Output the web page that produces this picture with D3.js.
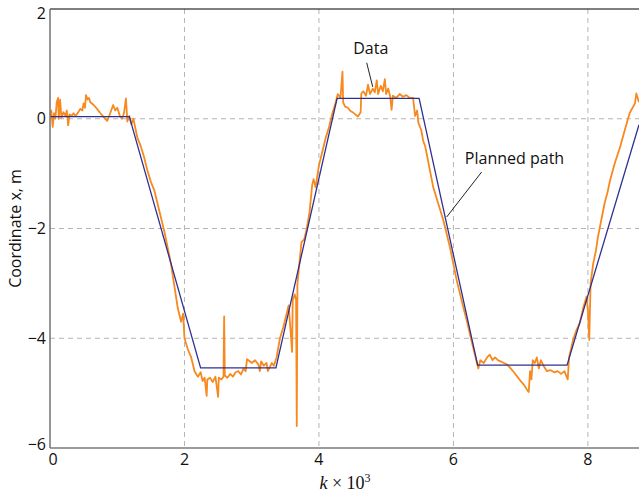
<!DOCTYPE html>
<html>
<head>
<meta charset="utf-8">
<script src="https://cdn.jsdelivr.net/npm/d3@7"></script>
<style>
  body { margin: 0; background: #fff; }
  svg { display: block; }
  text { font-family: "Open Sans", "Noto Sans", sans-serif; fill: #111; }
</style>
</head>
<body>
<svg id="chart" width="639" height="497"></svg>
<script>
// k (thousands) and x, m
const plannedK = [0, 1.18, 2.24, 3.36, 4.27, 5.49, 6.36, 7.69, 8.76];
const plannedX = [0.04, 0.04, -4.54, -4.54, 0.37, 0.37, -4.49, -4.49, -0.11];

const dataK = [
  0.00, 0.02, 0.04, 0.06, 0.08, 0.10, 0.12, 0.13, 0.15, 0.17, 0.20, 0.23, 0.25, 0.27, 0.29,
  0.32, 0.35, 0.38, 0.42, 0.45, 0.48, 0.50, 0.52, 0.535, 0.56, 0.58, 0.60, 0.65, 0.70, 0.75,
  0.80, 0.85, 0.88, 0.91, 0.94, 0.97, 1.00, 1.04, 1.07, 1.10, 1.13, 1.15, 1.18, 1.21, 1.24,
  1.30, 1.35, 1.40, 1.45, 1.50, 1.55, 1.60, 1.65, 1.70, 1.75, 1.80, 1.85, 1.90, 1.95, 1.98,
  2.00, 2.05, 2.10, 2.15, 2.20, 2.24, 2.27, 2.30, 2.33, 2.34, 2.38, 2.42, 2.46, 2.50, 2.51,
  2.55, 2.58, 2.59, 2.60, 2.64, 2.68, 2.72, 2.76, 2.80, 2.84, 2.88, 2.91, 2.93, 2.97, 3.00,
  3.05, 3.10, 3.12, 3.14, 3.18, 3.22, 3.24, 3.26, 3.30, 3.33, 3.37, 3.42, 3.47, 3.52, 3.55,
  3.58, 3.60, 3.61, 3.64, 3.66, 3.67, 3.68, 3.72, 3.74, 3.78, 3.82, 3.86, 3.90, 3.92, 3.95,
  4.00, 4.05, 4.10, 4.15, 4.20, 4.25, 4.28, 4.32, 4.35, 4.36, 4.39, 4.43, 4.46, 4.50, 4.54,
  4.58, 4.62, 4.63, 4.66, 4.70, 4.73, 4.76, 4.80, 4.83, 4.86, 4.88, 4.92, 4.95, 4.98, 5.00,
  5.03, 5.06, 5.08, 5.10, 5.15, 5.20, 5.25, 5.30, 5.35, 5.40, 5.43, 5.46, 5.48, 5.52, 5.55,
  5.58, 5.62, 5.66, 5.70, 5.75, 5.80, 5.85, 5.90, 5.95, 6.00, 6.05, 6.10, 6.15, 6.20, 6.25,
  6.30, 6.35, 6.37, 6.40, 6.45, 6.50, 6.54, 6.58, 6.62, 6.66, 6.70, 6.75, 6.80, 6.85, 6.90,
  6.95, 7.00, 7.05, 7.10, 7.12, 7.14, 7.16, 7.18, 7.21, 7.24, 7.27, 7.30, 7.34, 7.39, 7.44,
  7.50, 7.55, 7.60, 7.65, 7.70, 7.72, 7.78, 7.83, 7.88, 7.93, 7.98, 8.00, 8.02, 8.04, 8.08,
  8.12, 8.15, 8.20, 8.25, 8.29, 8.33, 8.40, 8.48, 8.55, 8.62, 8.70, 8.72, 8.76
];
const dataX = [
  0.05, 0.15, -0.15, 0.10, 0.00, 0.30, 0.38, 0.00, 0.35, 0.02, 0.12, 0.05, 0.15, -0.12, 0.08,
  0.05, 0.10, 0.05, 0.12, 0.18, 0.15, 0.28, 0.20, 0.43, 0.35, 0.38, 0.30, 0.25, 0.18, 0.10,
  0.03, -0.04, 0.05, 0.15, 0.25, 0.15, 0.20, 0.05, 0.00, 0.10, 0.37, -0.05, 0.05, -0.10, 0.00,
  -0.35, -0.50, -0.70, -0.95, -1.15, -1.30, -1.55, -1.80, -2.05, -2.35, -2.65, -3.05, -3.45, -3.70, -3.55,
  -4.00, -4.20, -4.35, -4.60, -4.70, -4.62, -4.78, -4.72, -5.05, -4.75, -4.72, -4.80, -4.70, -5.07, -4.72,
  -4.75, -4.70, -3.60, -4.68, -4.72, -4.65, -4.70, -4.62, -4.60, -4.66, -4.55, -4.60, -4.38, -4.42, -4.45,
  -4.40, -4.48, -4.60, -4.42, -4.50, -4.45, -4.60, -4.55, -4.45, -4.50, -4.35, -4.00, -3.80, -3.55, -3.40,
  -3.90, -4.25, -3.30, -3.20, -3.30, -5.60, -3.00, -2.50, -2.25, -2.20, -2.00, -1.70, -1.20, -1.10, -1.25,
  -0.85, -0.60, -0.35, -0.15, 0.10, 0.30, 0.45, 0.38, 0.86, 0.30, 0.22, 0.20, 0.15, 0.12, 0.08,
  0.04, 0.12, 0.46, 0.50, 0.42, 0.62, 0.45, 0.55, 0.48, 0.70, 0.45, 0.60, 0.50, 0.72, 0.45,
  0.55, 0.40, 0.16, 0.42, 0.38, 0.45, 0.40, 0.43, 0.38, 0.38, 0.05, 0.15, -0.08, -0.20, -0.40,
  -0.50, -0.75, -1.00, -1.25, -1.45, -1.65, -1.85, -2.10, -2.35, -2.65, -2.95, -3.20, -3.45, -3.68, -3.95,
  -4.20, -4.45, -4.55, -4.40, -4.45, -4.35, -4.30, -4.40, -4.35, -4.40, -4.42, -4.45, -4.48, -4.55, -4.62,
  -4.70, -4.78, -4.85, -4.95, -4.98, -4.60, -4.75, -4.40, -4.45, -4.35, -4.55, -4.40, -4.50, -4.60, -4.58,
  -4.62, -4.60, -4.65, -4.60, -4.75, -4.35, -4.03, -3.85, -3.72, -3.45, -3.24, -3.50, -4.03, -3.00, -2.63,
  -2.40, -2.15, -1.84, -1.53, -1.35, -1.12, -0.81, -0.51, -0.20, 0.10, 0.28, 0.46, 0.30
];

const xTicks = [0, 2, 4, 6, 8];
const yTicks = [2, 0, -2, -4, -6];
const gridX = [2, 4, 6, 8];
const gridY = [0, -2, -4];

// label text, anchor point of the text, and the two ends of its pointer line
const noteText = ['Data', 'Planned path'];
const noteAt = [[4.77, 1.25], [6.17, -0.75]];
const noteFrom = [[4.71, 1.02], [6.42, -0.97]];
const noteTo = [[4.8, 0.58], [5.9, -1.79]];

const width = 639, height = 497;
const margin = { top: 9, right: 0, bottom: 49, left: 50 };

const svg = d3.select('#chart');

const x = d3.scaleLinear()
  .domain([0, 8.76])
  .range([margin.left, width - margin.right]);

const y = d3.scaleLinear()
  .domain([-6, 2])
  .range([height - margin.bottom, margin.top]);

svg.append('defs').append('clipPath').attr('id', 'plot')
  .append('rect')
  .attr('x', margin.left).attr('y', margin.top)
  .attr('width', width - margin.left - margin.right)
  .attr('height', height - margin.top - margin.bottom);

// dashed grid
svg.append('g')
  .selectAll('line')
  .data(gridX)
  .join('line')
  .attr('x1', d => x(d)).attr('x2', d => x(d))
  .attr('y1', y(2)).attr('y2', y(-6))
  .attr('stroke', '#b4b4b4').attr('stroke-dasharray', '5,4');

svg.append('g')
  .selectAll('line')
  .data(gridY)
  .join('line')
  .attr('x1', x(0)).attr('x2', width)
  .attr('y1', d => y(d)).attr('y2', d => y(d))
  .attr('stroke', '#b4b4b4').attr('stroke-dasharray', '5,4');

const plot = svg.append('g').attr('clip-path', 'url(#plot)');

const line = d3.line().x(d => x(d[0])).y(d => y(d[1]));

plot.append('path')
  .datum(dataK.map((k, i) => [k, dataX[i]]))
  .attr('d', line)
  .attr('fill', 'none')
  .attr('stroke', '#f7891f')
  .attr('stroke-width', 1.8)
  .attr('stroke-linejoin', 'round');

plot.append('path')
  .datum(plannedK.map((k, i) => [k, plannedX[i]]))
  .attr('d', line)
  .attr('fill', 'none')
  .attr('stroke', '#2e3192')
  .attr('stroke-width', 1.3);

// spines
svg.append('line')
  .attr('x1', x(0)).attr('x2', width)
  .attr('y1', y(2)).attr('y2', y(2))
  .attr('stroke', '#000').attr('stroke-width', 1.2);

svg.append('line')
  .attr('x1', x(0)).attr('x2', x(0))
  .attr('y1', y(2)).attr('y2', y(-6))
  .attr('stroke', '#7a7a7a').attr('stroke-width', 1.6);

svg.append('line')
  .attr('x1', x(0)).attr('x2', width)
  .attr('y1', y(-6)).attr('y2', y(-6))
  .attr('stroke', '#7a7a7a').attr('stroke-width', 1.6);

// tick labels
svg.append('g')
  .selectAll('text')
  .data(xTicks)
  .join('text')
  .attr('x', d => x(d) + (d === 0 ? 3 : 0))
  .attr('y', y(-6) + 17)
  .attr('text-anchor', 'middle')
  .style('font-size', '16px')
  .text(d => d);

svg.append('g')
  .selectAll('text')
  .data(yTicks)
  .join('text')
  .attr('x', x(0) - 4)
  .attr('y', d => y(d) + (d === 2 ? 6 : d === -6 ? -2 : 1))
  .attr('text-anchor', 'end')
  .attr('dominant-baseline', 'middle')
  .style('font-size', '16px')
  .text(d => d < 0 ? '\u2212' + Math.abs(d) : d);

// axis titles
svg.append('text')
  .attr('transform', `translate(17,${(y(2) + y(-6)) / 2}) rotate(-90)`)
  .attr('text-anchor', 'middle')
  .attr('dominant-baseline', 'middle')
  .style('font-size', '16px')
  .text('Coordinate x, m');

const xt = svg.append('text')
  .attr('x', 345).attr('y', 489)
  .attr('text-anchor', 'middle')
  .style('font-family', '"Liberation Serif", "DejaVu Serif", serif')
  .style('font-size', '18px');
xt.append('tspan').style('font-style', 'italic').text('k');
xt.append('tspan').text(' \u00d7 10');
xt.append('tspan').attr('dy', -7).style('font-size', '12px').text('3');

// annotations
const notes = svg.append('g');
notes.selectAll('line')
  .data(noteText)
  .join('line')
  .attr('x1', (d, i) => x(noteFrom[i][0])).attr('y1', (d, i) => y(noteFrom[i][1]))
  .attr('x2', (d, i) => x(noteTo[i][0])).attr('y2', (d, i) => y(noteTo[i][1]))
  .attr('stroke', '#222').attr('stroke-width', 1);

notes.selectAll('text')
  .data(noteText)
  .join('text')
  .attr('x', (d, i) => x(noteAt[i][0]))
  .attr('y', (d, i) => y(noteAt[i][1]))
  .attr('text-anchor', (d, i) => i === 0 ? 'middle' : 'start')
  .attr('dominant-baseline', 'middle')
  .style('font-size', '16px')
  .text(d => d);
</script>
</body>
</html>
